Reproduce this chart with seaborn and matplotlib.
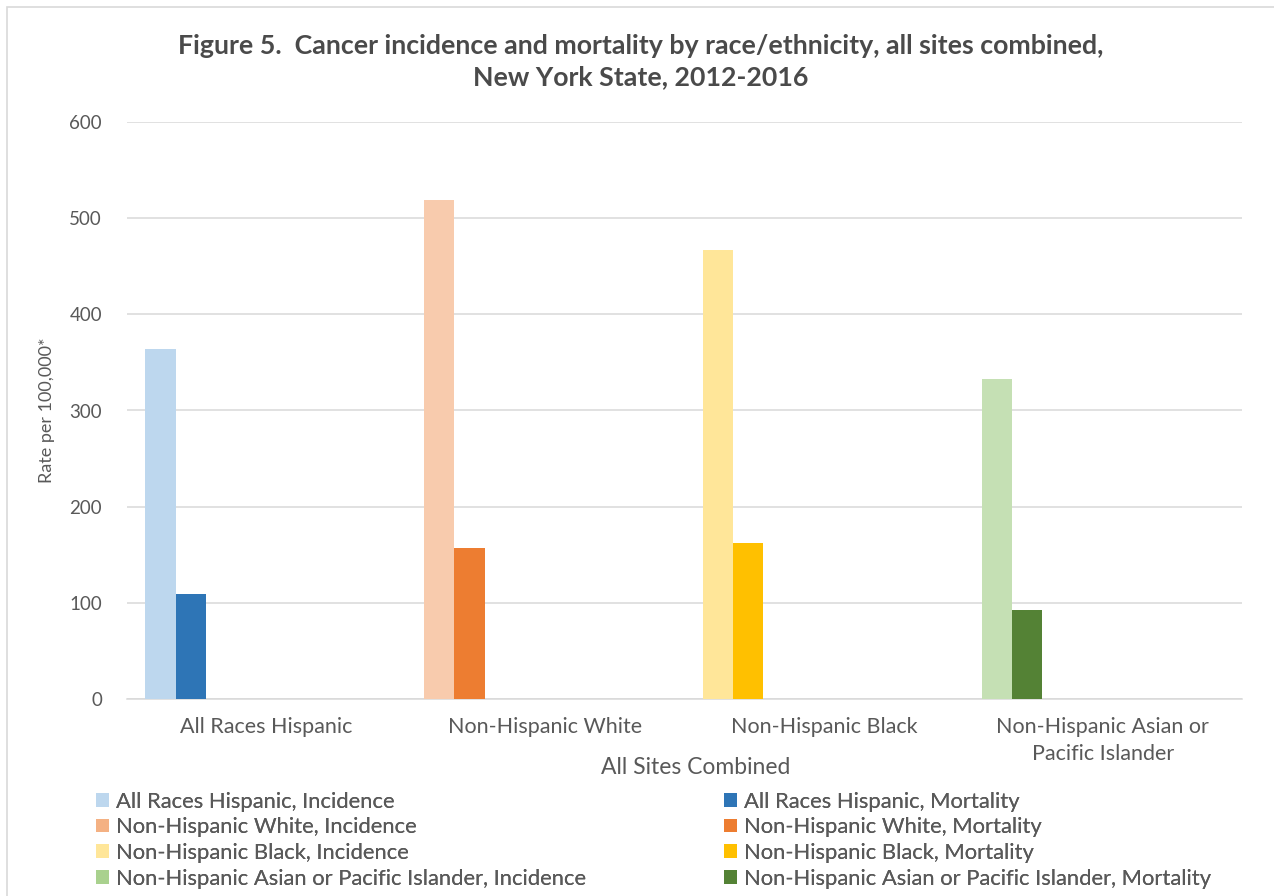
import numpy as np
import pandas as pd
import seaborn as sns
import matplotlib.pyplot as plt
from matplotlib.patches import Rectangle, Patch

# Rates per 100,000, New York State 2012-2016, all sites combined
groups = ["All Races Hispanic", "Non-Hispanic White", "Non-Hispanic Black",
          "Non-Hispanic Asian or\nPacific Islander"]
legend_groups = ["All Races Hispanic", "Non-Hispanic White", "Non-Hispanic Black",
                 "Non-Hispanic Asian or Pacific Islander"]
incidence = [364, 519, 467, 333]
mortality = [109, 157, 162, 93]
measures = ["Incidence", "Mortality"]
y_ticks = [0, 100, 200, 300, 400, 500, 600]

# Colours per group: (incidence bar, mortality bar), plus legend swatches
bar_colors = [("#BDD7EE", "#2E75B6"), ("#F8CBAD", "#ED7D31"),
              ("#FFE699", "#FFC000"), ("#C5E0B4", "#548235")]
swatch_colors = [("#BDD7EE", "#2E75B6"), ("#F4B183", "#ED7D31"),
                 ("#FFE699", "#FFC000"), ("#A9D18E", "#548235")]

# Each cluster reserves eight series slots; only the first two hold data
slots = measures + [f"slot {i}" for i in range(3, 9)]

df = pd.DataFrame({
    "group": groups * 2,
    "measure": ["Incidence"] * 4 + ["Mortality"] * 4,
    "rate": incidence + mortality,
})

sns.set_theme(style="white")
plt.rcParams["font.family"] = ["Lato", "DejaVu Sans"]

W, H = 1274, 896
fig = plt.figure(figsize=(W / 100, H / 100), dpi=100)
ax_l, ax_r, ax_b, ax_t = 127, 1242, 699, 122
ax = fig.add_axes([ax_l / W, 1 - ax_b / H, (ax_r - ax_l) / W, (ax_b - ax_t) / H])

sns.barplot(data=df, x="group", y="rate", hue="measure", hue_order=slots,
            order=groups, width=0.868, gap=0, dodge=True, legend=False,
            errorbar=None, saturation=1, ax=ax, zorder=3)

# Recolour each bar by its group
for m_idx, cont in enumerate(ax.containers[:2]):
    for g_idx, bar in enumerate(cont):
        bar.set_facecolor(bar_colors[g_idx][m_idx])
        bar.set_edgecolor("none")

ax.set_ylim(0, 600)
ax.set_xlim(-0.5, 3.5)
ax.set_yticks(y_ticks)
ax.yaxis.grid(True, color="#D9D9D9", linewidth=1.1, zorder=0)
ax.set_axisbelow(True)
for s in ["top", "right", "left"]:
    ax.spines[s].set_visible(False)
ax.spines["bottom"].set_color("#D9D9D9")
ax.spines["bottom"].set_linewidth(1.1)

ax.tick_params(axis="both", length=0, labelcolor="#595959")
ax.tick_params(axis="y", pad=18, labelsize=13.5)
ax.tick_params(axis="x", pad=13, labelsize=15.5)
for lbl in ax.get_xticklabels():
    lbl.set_linespacing(1.45)

ax.set_xlabel("All Sites Combined", fontsize=16.5, color="#595959", va="center")
ax.xaxis.set_label_coords((696 - ax_l) / (ax_r - ax_l), (ax_b - 767) / (ax_b - ax_t))
ax.set_ylabel("Rate per 100,000*", fontsize=13, color="#595959", va="center")
ax.yaxis.set_label_coords((47 - ax_l) / (ax_r - ax_l), 0.5)

title_kw = dict(ha="center", va="center", fontsize=19.3, fontweight="bold", color="#4A4A4A")
fig.text(641 / W, 1 - 46 / H,
         "Figure 5.  Cancer incidence and mortality by race/ethnicity, all sites combined,",
         **title_kw)
fig.text(641 / W, 1 - 77 / H, "New York State, 2012-2016", **title_kw)

# Two legend columns: incidence on the left, mortality on the right
for m_idx, x0 in enumerate([96, 724]):
    handles = [Patch(facecolor=swatch_colors[g][m_idx], edgecolor="none")
               for g in range(4)]
    labels = [f"{legend_groups[g]}, {measures[m_idx]}" for g in range(4)]
    leg = fig.legend(handles, labels, loc="upper left",
                     bbox_to_anchor=(x0 / W, 1 - 791.5 / H), frameon=False,
                     fontsize=15.8, handlelength=0.6, handleheight=0.6,
                     handletextpad=0.3, labelspacing=0.26, borderaxespad=0,
                     borderpad=0, labelcolor="#595959")
    fig.add_artist(leg)

# Chart frame
fig.patches.append(Rectangle((7 / W, -0.05), 1.1, 1 - 7 / H + 0.05,
                             transform=fig.transFigure, fill=False,
                             edgecolor="#D9D9D9", linewidth=1.2))

fig.savefig("out.png", dpi=100, facecolor="white")
